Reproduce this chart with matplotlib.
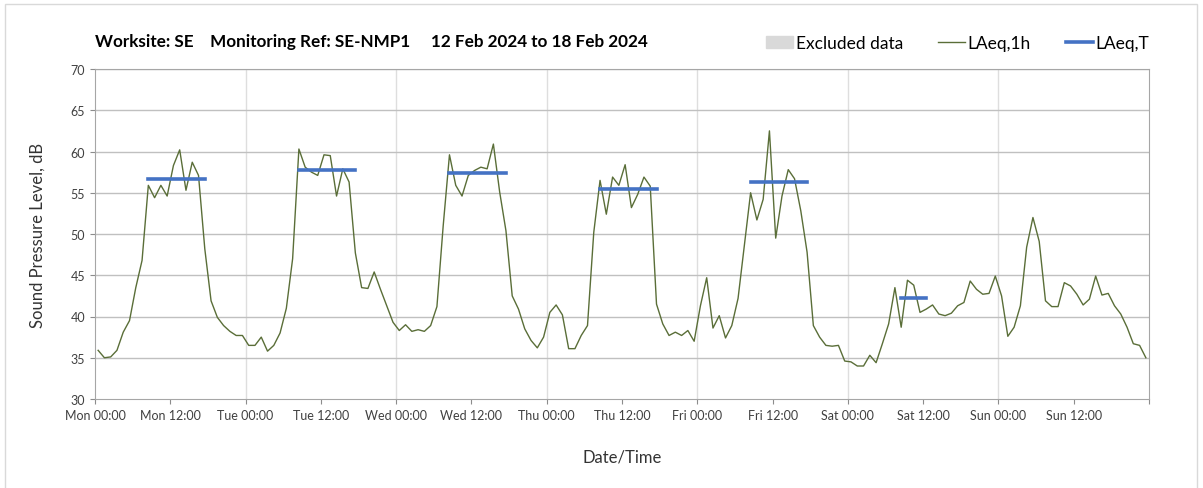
import matplotlib
matplotlib.use("Agg")
import matplotlib.pyplot as plt
import matplotlib.patches as mpatches
import matplotlib.lines as mlines
import numpy as np

# hourly LAeq,1h values, Mon 00:00 to Sun 24:00 (plotted at mid-hour)
laeq_1h = [
    35.9, 35.0, 35.1, 35.9, 38.1, 39.5, 43.5, 46.8, 55.9, 54.4, 55.9, 54.6,
    58.3, 60.2, 55.3, 58.7, 57.1, 48.2, 41.9, 39.9, 38.9, 38.2, 37.7, 37.7,
    36.5, 36.5, 37.5, 35.8, 36.5, 38.0, 41.0, 47.0, 60.3, 58.1, 57.5, 57.1,
    59.6, 59.5, 54.6, 57.9, 56.3, 47.7, 43.5, 43.4, 45.4, 43.3, 41.3, 39.3,
    38.3, 39.0, 38.2, 38.4, 38.2, 38.9, 41.2, 51.0, 59.6, 55.9, 54.6, 57.1,
    57.7, 58.1, 57.9, 60.9, 55.1, 50.4, 42.5, 40.9, 38.5, 37.1, 36.2, 37.5,
    40.5, 41.4, 40.2, 36.1, 36.1, 37.7, 38.9, 50.2, 56.5, 52.4, 56.9, 55.9,
    58.4, 53.2, 54.8, 56.9, 55.8, 41.5, 39.1, 37.7, 38.1, 37.7, 38.3, 37.0,
    41.3, 44.7, 38.6, 40.1, 37.4, 38.9, 42.2, 48.6, 55.0, 51.7, 54.2, 62.5,
    49.5, 54.6, 57.8, 56.7, 52.8, 47.8, 38.9, 37.5, 36.5, 36.4, 36.5, 34.6,
    34.5, 34.0, 34.0, 35.3, 34.4, 36.7, 39.1, 43.5, 38.7, 44.4, 43.8, 40.5,
    40.9, 41.4, 40.3, 40.1, 40.4, 41.3, 41.7, 44.3, 43.3, 42.7, 42.8, 44.9,
    42.5, 37.6, 38.7, 41.3, 48.4, 52.0, 49.1, 41.9, 41.2, 41.2, 44.1, 43.7,
    42.7, 41.4, 42.1, 44.9, 42.6, 42.8, 41.3, 40.3, 38.7, 36.7, 36.5, 35.0,
]

# LAeq,T periods (hours from Mon 00:00) and levels
period_start = [8.5, 32.5, 56.5, 80.5, 104.5, 128.5]
period_end = [17.5, 41.5, 65.5, 89.5, 113.5, 132.5]
laeq_t = [56.7, 57.8, 57.4, 55.5, 56.3, 42.2]

tick_labels = ["Mon 00:00", "Mon 12:00", "Tue 00:00", "Tue 12:00",
               "Wed 00:00", "Wed 12:00", "Thu 00:00", "Thu 12:00",
               "Fri 00:00", "Fri 12:00", "Sat 00:00", "Sat 12:00",
               "Sun 00:00", "Sun 12:00", ""]

plt.rcParams['font.family'] = ['Lato', 'DejaVu Sans']

fig = plt.figure(figsize=(12.03, 4.89), dpi=100)
# light chart-area border
fig.patches.append(mpatches.Rectangle((5 / 1203, -0.01), 1192 / 1203, 1.0,
                                      transform=fig.transFigure, fill=False,
                                      edgecolor='#d9d9d9', linewidth=1))
ax = fig.add_axes([95 / 1203, 89 / 489, 1054 / 1203, 330 / 489])

hours = np.arange(len(laeq_1h)) + 0.5
ax.plot(hours, laeq_1h, color='#5a6e38', linewidth=1.0, zorder=3)
for s, e, v in zip(period_start, period_end, laeq_t):
    ax.plot([s, e], [v, v], color='#4472c4', linewidth=2.6,
            solid_capstyle='projecting', zorder=4)

ax.set_xlim(0, 168)
ax.set_ylim(30, 70)
ax.set_xticks(np.arange(0, 169, 12))
ax.set_xticklabels(tick_labels)
ax.set_yticks(np.arange(30, 71, 5))

# day gridlines only at 00:00
for d in range(24, 168, 24):
    ax.axvline(d, color='#dedede', linewidth=1, zorder=1)
for y in range(35, 71, 5):
    ax.axhline(y, color='#c0c0c0', linewidth=1, zorder=1)

for sp in ax.spines.values():
    sp.set_color('#a6a6a6')
ax.tick_params(axis='both', colors='#8c8c8c', labelcolor='#404040',
               labelsize=9, length=3.5, direction='out')

ax.set_xlabel("Date/Time", fontsize=12, color='#333333', labelpad=20)
ax.set_ylabel("Sound Pressure Level, dB", fontsize=12, color='#333333',
              labelpad=18)

fig.text(95 / 1203, 1 - 42 / 489,
         "Worksite: SE    Monitoring Ref: SE-NMP1     12 Feb 2024 to 18 Feb 2024",
         fontsize=12.3, fontweight='bold', va='center', ha='left')

handles = [
    mpatches.Patch(color='#d9d9d9', label='Excluded data'),
    mlines.Line2D([], [], color='#5a6e38', linewidth=1.0, label='LAeq,1h'),
    mlines.Line2D([], [], color='#4472c4', linewidth=2.6, label='LAeq,T'),
]
fig.legend(handles=handles, loc='center right', ncol=3, frameon=False,
           bbox_to_anchor=(1165 / 1203, 1 - 44 / 489), fontsize=12.5,
           handlelength=1.55, handletextpad=0.17, columnspacing=2.0)

fig.savefig("out.png", dpi=100)
